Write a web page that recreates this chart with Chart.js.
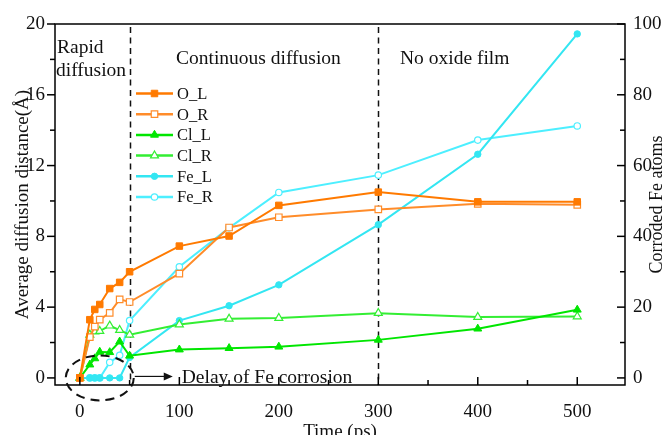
<!DOCTYPE html>
<html><head><meta charset="utf-8">
<script src="https://cdn.jsdelivr.net/npm/chart.js@4.4.1/dist/chart.umd.min.js"></script>
<style>html,body{margin:0;padding:0;background:#fff;}canvas{display:block;}</style>
</head><body>
<canvas id="c" width="666" height="435"></canvas>
<script>
// ---- data ----
const times = [0, 10, 15, 20, 30, 40, 50, 100, 150, 200, 300, 400, 500];
const oL  = [0, 3.29, 3.87, 4.15, 5.05, 5.4, 6.0, 7.45, 8.02, 9.75, 10.5, 9.95, 9.95];
const oR  = [0, 2.3, 2.9, 3.29, 3.68, 4.44, 4.29, 5.89, 8.5, 9.08, 9.52, 9.84, 9.78];
const clL = [0, 0.75, 1.1, 1.47, 1.45, 2.05, 1.25, 1.6, 1.68, 1.76, 2.15, 2.78, 3.85];
const clR = [0, 2.44, 2.62, 2.65, 2.95, 2.7, 2.44, 3.02, 3.34, 3.38, 3.66, 3.44, 3.47];
const feL = [0, 0, 0, 0, 0, 0, 5.8, 16.2, 20.4, 26.3, 43.3, 63.2, 97.2];
const feR = [0, 0, 0, 0, 4.4, 6.4, 16.2, 31.4, 42.4, 52.4, 57.3, 67.2, 71.2];
const seriesNames = ['O_L', 'O_R', 'Cl_L', 'Cl_R', 'Fe_L', 'Fe_R'];

const xTicks = [0, 100, 200, 300, 400, 500];
const xMinor = [50, 150, 250, 350, 450];
const yTicks = [0, 4, 8, 12, 16, 20];
const yMinor = [2, 6, 10, 14, 18];
const y1Ticks = [0, 20, 40, 60, 80, 100];
const y1Minor = [10, 30, 50, 70, 90];
const phaseBounds = [50, 300];

const FONT = "'Liberation Serif','Times New Roman',serif";
const ORANGE = '#FF7A00', ORANGE2 = '#FF8C2A';
const GREEN = '#00E600', GREEN2 = '#33EE33';
const CYAN = '#33E6F2', CYAN2 = '#4DEFFF';

function pts(arr) { return times.map((t, i) => ({x: t, y: arr[i]})); }

function ds(label, arr, color, style, filled, radius, axis) {
  return {
    label, data: pts(arr), yAxisID: axis,
    borderColor: color, backgroundColor: color, borderWidth: 2,
    pointStyle: style, pointRadius: radius, pointHoverRadius: radius,
    pointBackgroundColor: filled ? color : '#ffffff',
    pointBorderColor: color, pointBorderWidth: filled ? 1 : 1.2,
    tension: 0, fill: false
  };
}

const datasets = [
  ds(seriesNames[0], oL, ORANGE, 'rect', true, 4.6, 'y'),
  ds(seriesNames[1], oR, ORANGE2, 'rect', false, 4.6, 'y'),
  ds(seriesNames[2], clL, GREEN, 'triangle', true, 4.6, 'y'),
  ds(seriesNames[3], clR, GREEN2, 'triangle', false, 4.6, 'y'),
  ds(seriesNames[4], feL, CYAN, 'circle', true, 3.2, 'y1'),
  ds(seriesNames[5], feR, CYAN2, 'circle', false, 3.2, 'y1')
];

function drawMarker(ctx, d, x, y) {
  ctx.save();
  ctx.fillStyle = d.pointBackgroundColor;
  ctx.strokeStyle = d.pointBorderColor;
  ctx.lineWidth = d.pointBorderWidth;
  if (Chart.helpers && Chart.helpers.drawPoint) {
    Chart.helpers.drawPoint(ctx, {pointStyle: d.pointStyle, radius: d.pointRadius, rotation: 0, borderWidth: d.pointBorderWidth}, x, y);
  } else {
    ctx.beginPath(); ctx.arc(x, y, d.pointRadius, 0, Math.PI * 2); ctx.fill(); ctx.stroke();
  }
  ctx.restore();
}

const framePlugin = {
  id: 'frame',
  beforeDatasetsDraw(chart) {
    const {ctx, chartArea: a, scales} = chart;
    ctx.save();
    ctx.strokeStyle = '#111'; ctx.lineWidth = 1.5; ctx.setLineDash([6, 4.5]);
    phaseBounds.forEach(v => {
      const px = Math.round(scales.x.getPixelForValue(v)) + 0.5;
      ctx.beginPath(); ctx.moveTo(px, a.top + 3); ctx.lineTo(px, a.bottom); ctx.stroke();
    });
    ctx.restore();
  },
  afterDraw(chart) {
    const {ctx, chartArea: a, scales} = chart;
    ctx.save();
    ctx.strokeStyle = '#000'; ctx.lineWidth = 1.5; ctx.setLineDash([]);
    ctx.strokeRect(a.left, a.top, a.right - a.left, a.bottom - a.top);
    const tick = (x1, y1, x2, y2) => { ctx.beginPath(); ctx.moveTo(x1, y1); ctx.lineTo(x2, y2); ctx.stroke(); };
    // left: outward
    yTicks.forEach(v => { const p = scales.y.getPixelForValue(v); tick(a.left - 8, p, a.left, p); });
    yMinor.forEach(v => { const p = scales.y.getPixelForValue(v); tick(a.left - 5, p, a.left, p); });
    // right: inward
    y1Ticks.forEach(v => { const p = scales.y1.getPixelForValue(v); tick(a.right - 8, p, a.right, p); });
    y1Minor.forEach(v => { const p = scales.y1.getPixelForValue(v); tick(a.right - 5, p, a.right, p); });
    // bottom: inward
    xTicks.forEach(v => { const p = scales.x.getPixelForValue(v); tick(p, a.bottom - 8, p, a.bottom); });
    xMinor.forEach(v => { const p = scales.x.getPixelForValue(v); tick(p, a.bottom - 5, p, a.bottom); });

    // phase labels
    ctx.fillStyle = '#111';
    ctx.font = '19.5px ' + FONT;
    ctx.textBaseline = 'alphabetic'; ctx.textAlign = 'left';
    ctx.fillText('Rapid', a.left + 2, a.top + 29);
    ctx.fillText('diffusion', a.left + 1, a.top + 52);
    ctx.fillText('Continuous diffusion', a.left + 121, a.top + 40);
    ctx.fillText('No oxide film', a.left + 345, a.top + 40);

    // ellipse around delayed Fe corrosion
    const cx = scales.x.getPixelForValue(20), cy = scales.y.getPixelForValue(0);
    ctx.strokeStyle = '#111'; ctx.lineWidth = 2; ctx.setLineDash([9, 6]);
    ctx.beginPath(); ctx.ellipse(cx, cy, 34, 22.5, 0, 0, Math.PI * 2); ctx.stroke();
    ctx.setLineDash([]);
    // arrow
    ctx.lineWidth = 1.2;
    const ax0 = cx + 35, ax1 = cx + 73, ay = cy - 1.5;
    ctx.beginPath(); ctx.moveTo(ax0, ay); ctx.lineTo(ax1 - 7, ay); ctx.stroke();
    ctx.beginPath(); ctx.moveTo(ax1, ay); ctx.lineTo(ax1 - 9, ay - 4); ctx.lineTo(ax1 - 9, ay + 4); ctx.closePath(); ctx.fill();
    ctx.textBaseline = 'middle';
    ctx.fillText('Delay of Fe corrosion', ax1 + 9, ay + 1);

    // legend
    ctx.font = '16.5px ' + FONT;
    chart.data.datasets.forEach((d, i) => {
      const ry = a.top + 69.5 + i * 20.7;
      ctx.strokeStyle = d.borderColor; ctx.lineWidth = 2.5;
      ctx.beginPath(); ctx.moveTo(a.left + 81, ry); ctx.lineTo(a.left + 118, ry); ctx.stroke();
      drawMarker(ctx, d, a.left + 99.5, ry);
      ctx.fillStyle = '#111';
      ctx.fillText(d.label, a.left + 122, ry + 1);
    });

    // right axis title (reads bottom-to-top)
    ctx.save();
    ctx.font = '18px ' + FONT; ctx.fillStyle = '#111';
    ctx.textAlign = 'center'; ctx.textBaseline = 'middle';
    ctx.translate(657, (a.top + a.bottom) / 2);
    ctx.rotate(-Math.PI / 2);
    ctx.fillText('Corroded Fe atoms', 0, 0);
    ctx.restore();
    ctx.restore();
  }
};

const tickFont = {family: FONT, size: 19};
new Chart(document.getElementById('c'), {
  type: 'line',
  data: {datasets},
  options: {
    responsive: false, animation: false,
    layout: {padding: {top: 24, left: 0, right: 0, bottom: 0}},
    plugins: {legend: {display: false}, tooltip: {enabled: false}},
    scales: {
      x: {
        type: 'linear', min: -25, max: 548,
        grid: {display: false, drawTicks: false}, border: {display: false},
        afterBuildTicks: s => { s.ticks = xTicks.map(v => ({value: v})); },
        afterFit: s => { s.height = 50; },
        ticks: {font: tickFont, color: '#111', padding: 16, maxRotation: 0, autoSkip: false},
        title: {display: true, text: 'Time (ps)', font: {family: FONT, size: 19}, color: '#111', padding: {top: 0, bottom: -8}}
      },
      y: {
        type: 'linear', position: 'left', min: -0.4, max: 20,
        grid: {display: false, drawTicks: false}, border: {display: false},
        afterBuildTicks: s => { s.ticks = yTicks.map(v => ({value: v})); },
        afterFit: s => { s.width = 55; },
        ticks: {font: tickFont, color: '#111', padding: 10, autoSkip: false},
        title: {display: true, text: 'Average diffusion distance(Å)', font: {family: FONT, size: 19}, color: '#111', padding: {top: 12, bottom: 0}}
      },
      y1: {
        type: 'linear', position: 'right', min: -2, max: 100,
        grid: {display: false, drawTicks: false}, border: {display: false},
        afterBuildTicks: s => { s.ticks = y1Ticks.map(v => ({value: v})); },
        afterFit: s => { s.width = 41; },
        ticks: {font: tickFont, color: '#111', padding: 8, autoSkip: false}
      }
    }
  },
  plugins: [framePlugin]
});
</script>
</body></html>
